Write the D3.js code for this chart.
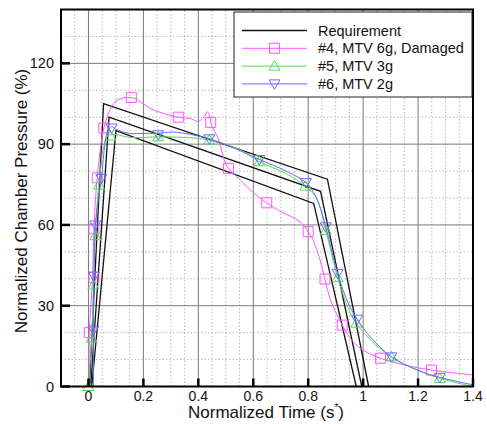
<!DOCTYPE html>
<html>
<head>
<meta charset="utf-8">
<script src="https://cdn.jsdelivr.net/npm/d3@7"></script>
<style>
  body { margin: 0; background: #fff; }
  text { font-family: Arial, "Liberation Sans", sans-serif; }
</style>
</head>
<body>
<div id="chart"></div>
<script>
const width = 487;
const height = 424;
const margin = { top: 9.5, right: 14, bottom: 37.5, left: 61 };

// requirement envelope (upper / nominal / lower)
const reqUpper = [[0.003, 0], [0.055, 105], [0.87, 77], [1.02, 0]];
const reqMid = [[0.008, 0], [0.075, 100], [0.845, 72.5], [0.995, 0]];
const reqLower = [[0.012, 0], [0.1, 95], [0.82, 68], [0.975, 0]];

// #4, MTV 6g, Damaged
const s4Line = [[0.003, 0], [0.003, 20], [0.015, 40], [0.02, 58.5], [0.032, 77.5], [0.056, 96], [0.08, 103],
  [0.104, 106.3], [0.156, 107.3], [0.2, 105], [0.224, 103.3], [0.273, 101.4], [0.327, 100], [0.37, 99.5],
  [0.4, 98.5], [0.42, 100], [0.433, 102], [0.442, 100], [0.448, 97], [0.473, 92], [0.503, 82], [0.55, 77],
  [0.6, 72], [0.649, 68.2], [0.7, 65], [0.77, 61.2], [0.8, 57.5], [0.818, 54.4], [0.843, 47], [0.861, 39.9],
  [0.879, 32.7], [0.903, 27], [0.924, 22.8], [0.96, 17], [1.0, 13.5], [1.063, 10.5], [1.15, 8],
  [1.249, 6.1], [1.4, 4.3]];
const s4Marks = [[0.003, 20], [0.02, 40.5], [0.02, 58.5], [0.032, 77.5], [0.056, 96], [0.156, 107.3],
  [0.327, 100], [0.445, 98], [0.51, 81], [0.649, 68.2], [0.8, 57.5], [0.861, 39.9], [0.924, 22.8],
  [1.063, 10.5], [1.249, 6.1]];

// #5, MTV 3g
const s5Line = [[0, 0], [0.012, 18], [0.018, 37.7], [0.025, 56], [0.038, 74.8], [0.07, 93], [0.1, 93.5],
  [0.15, 92.5], [0.254, 92.7], [0.35, 92.5], [0.44, 91.5], [0.55, 88], [0.622, 83.5], [0.72, 79],
  [0.79, 74.4], [0.83, 70], [0.864, 58], [0.907, 40.5], [0.95, 28], [0.975, 23.5], [1.03, 17],
  [1.103, 11], [1.2, 6], [1.279, 3], [1.4, 0]];
const s5Marks = [[0, 0], [0.012, 18], [0.018, 37.7], [0.025, 56], [0.038, 74.8], [0.08, 93], [0.254, 92.7],
  [0.44, 91.5], [0.622, 83.5], [0.79, 74.4], [0.864, 58], [0.907, 40.5], [0.975, 23.5], [1.103, 11], [1.279, 3]];

// #6, MTV 2g
const s6Line = [[0.018, 0], [0.018, 21], [0.02, 41], [0.025, 60], [0.047, 77.3], [0.07, 95], [0.084, 96.5],
  [0.1, 95.5], [0.15, 94], [0.2, 94], [0.254, 94], [0.3, 94.5], [0.35, 94], [0.44, 92], [0.52, 89],
  [0.622, 84.3], [0.72, 80], [0.792, 75.7], [0.82, 72], [0.845, 66], [0.864, 59.3], [0.907, 42],
  [0.95, 30], [0.978, 25], [1.03, 18], [1.103, 11], [1.2, 6], [1.279, 3.4], [1.4, 0.6]];
const s6Marks = [[0.018, 21], [0.02, 41], [0.025, 60], [0.047, 77.3], [0.084, 96], [0.254, 93.5], [0.44, 92],
  [0.622, 84.3], [0.792, 75.7], [0.864, 59.3], [0.907, 42], [0.978, 25], [1.103, 11], [1.279, 3.4]];

const xTicks = [0, 0.2, 0.4, 0.6, 0.8, 1, 1.2, 1.4];
const yTicks = [0, 30, 60, 90, 120];
const legendNames = ["Requirement", "#4, MTV 6g, Damaged", "#5, MTV 3g", "#6, MTV 2g"];

const pink = "#ff55ff", green = "#55dd55", blue = "#6a6aff";

const svg = d3.select("#chart").append("svg")
  .attr("width", width)
  .attr("height", height);

const x = d3.scaleLinear().domain([-0.1, 1.4]).range([margin.left, width - margin.right]);
const y = d3.scaleLinear().domain([0, 140]).range([height - margin.bottom, margin.top]);

// minor grid (dotted)
const xMinor = d3.range(-0.05, 1.4, 0.05).filter(v => Math.abs(Math.round(v * 5) - v * 5) > 1e-6);
const yMinor = d3.range(10, 140, 10).filter(v => v % 30 !== 0);
svg.append("g").selectAll("line").data(xMinor).enter().append("line")
  .attr("x1", d => x(d)).attr("x2", d => x(d))
  .attr("y1", y(0)).attr("y2", y(140))
  .attr("stroke", "#bbb").attr("stroke-dasharray", "1.5,2");
svg.append("g").selectAll("line").data(yMinor).enter().append("line")
  .attr("x1", x(-0.1)).attr("x2", x(1.4))
  .attr("y1", d => y(d)).attr("y2", d => y(d))
  .attr("stroke", "#bbb").attr("stroke-dasharray", "1.5,2");

// major grid
svg.append("g").selectAll("line").data(xTicks).enter().append("line")
  .attr("x1", d => x(d)).attr("x2", d => x(d))
  .attr("y1", y(0)).attr("y2", y(140))
  .attr("stroke", "#7a7a7a").attr("stroke-width", 1);
svg.append("g").selectAll("line").data(yTicks).enter().append("line")
  .attr("x1", x(-0.1)).attr("x2", x(1.4))
  .attr("y1", d => y(d)).attr("y2", d => y(d))
  .attr("stroke", "#7a7a7a").attr("stroke-width", 1);

// lines
const lineLin = d3.line().x(d => x(d[0])).y(d => y(d[1]));
const lineSmooth = d3.line().x(d => x(d[0])).y(d => y(d[1])).curve(d3.curveCatmullRom.alpha(0.5));

const plot = svg.append("g");
[reqUpper, reqMid, reqLower].forEach(r => {
  plot.append("path").datum(r).attr("d", lineLin)
    .attr("fill", "none").attr("stroke", "#111").attr("stroke-width", 1.3);
});

const series = [
  { line: s4Line, marks: s4Marks, color: pink, shape: "square" },
  { line: s5Line, marks: s5Marks, color: green, shape: "up" },
  { line: s6Line, marks: s6Marks, color: blue, shape: "down" }
];

function markerPath(shape, cx, cy) {
  if (shape === "square") return `M${cx - 5},${cy - 5}h10v10h-10z`;
  if (shape === "up") return `M${cx},${cy - 5.5}L${cx + 5.5},${cy + 4}L${cx - 5.5},${cy + 4}z`;
  return `M${cx},${cy + 5.5}L${cx + 5.5},${cy - 4}L${cx - 5.5},${cy - 4}z`;
}

series.forEach(s => {
  plot.append("path").datum(s.line).attr("d", lineSmooth)
    .attr("fill", "none").attr("stroke", s.color).attr("stroke-width", 1);
  plot.append("g").selectAll("path").data(s.marks).enter().append("path")
    .attr("d", d => markerPath(s.shape, x(d[0]), y(d[1])))
    .attr("fill", "none").attr("stroke", s.color).attr("stroke-width", 1);
});

// frame
svg.append("rect")
  .attr("x", x(-0.1)).attr("y", y(140))
  .attr("width", x(1.4) - x(-0.1)).attr("height", y(0) - y(140))
  .attr("fill", "none").attr("stroke", "#000").attr("stroke-width", 2);

// major ticks (inside)
svg.append("g").selectAll("line").data(xTicks).enter().append("line")
  .attr("x1", d => x(d)).attr("x2", d => x(d))
  .attr("y1", y(0)).attr("y2", y(0) - 8)
  .attr("stroke", "#000").attr("stroke-width", 2.5);
svg.append("g").selectAll("line").data(yTicks).enter().append("line")
  .attr("x1", x(-0.1)).attr("x2", x(-0.1) + 9)
  .attr("y1", d => y(d)).attr("y2", d => y(d))
  .attr("stroke", "#000").attr("stroke-width", 2.5);

// tick labels
svg.append("g").selectAll("text").data(xTicks).enter().append("text")
  .attr("x", d => x(d)).attr("y", y(0) + 14)
  .attr("text-anchor", "middle").attr("font-size", "14px").attr("fill", "#111")
  .text(d => d3.format("")(d));
svg.append("g").selectAll("text").data(yTicks).enter().append("text")
  .attr("x", x(-0.1) - 7).attr("y", d => y(d) + 5)
  .attr("text-anchor", "end").attr("font-size", "14.5px").attr("fill", "#111")
  .text(d => d);

// axis titles
const xt = svg.append("text")
  .attr("x", 266).attr("y", 418)
  .attr("text-anchor", "middle").attr("font-size", "17px").attr("fill", "#111");
xt.append("tspan").text("Normalized Time (s");
xt.append("tspan").attr("dy", -7).attr("font-size", "10px").text("*");
xt.append("tspan").attr("dy", 7).text(")");

svg.append("text")
  .attr("transform", `translate(27,${(y(0) + y(140)) / 2 + 3}) rotate(-90)`)
  .attr("text-anchor", "middle").attr("font-size", "17px").attr("fill", "#111")
  .text("Normalized Chamber Pressure (%)");

// legend
const lg = svg.append("g");
lg.append("rect").attr("x", 234).attr("y", 12).attr("width", 238).attr("height", 85)
  .attr("fill", "#fff").attr("stroke", "#222").attr("stroke-width", 1);
const legColors = ["#111", pink, green, blue];
const legShapes = [null, "square", "up", "down"];
legendNames.forEach((name, i) => {
  const ly = 30.5 + i * 17.8;
  lg.append("line").attr("x1", 242).attr("x2", 307).attr("y1", ly).attr("y2", ly)
    .attr("stroke", legColors[i]).attr("stroke-width", i === 0 ? 1.3 : 1);
  if (legShapes[i]) {
    lg.append("path").attr("d", markerPath(legShapes[i], 274.5, ly))
      .attr("fill", "none").attr("stroke", legColors[i]).attr("stroke-width", 1);
  }
  lg.append("text").attr("x", 318).attr("y", ly + 5)
    .attr("font-size", "14.5px").attr("fill", "#111").text(name);
});
</script>
</body>
</html>
